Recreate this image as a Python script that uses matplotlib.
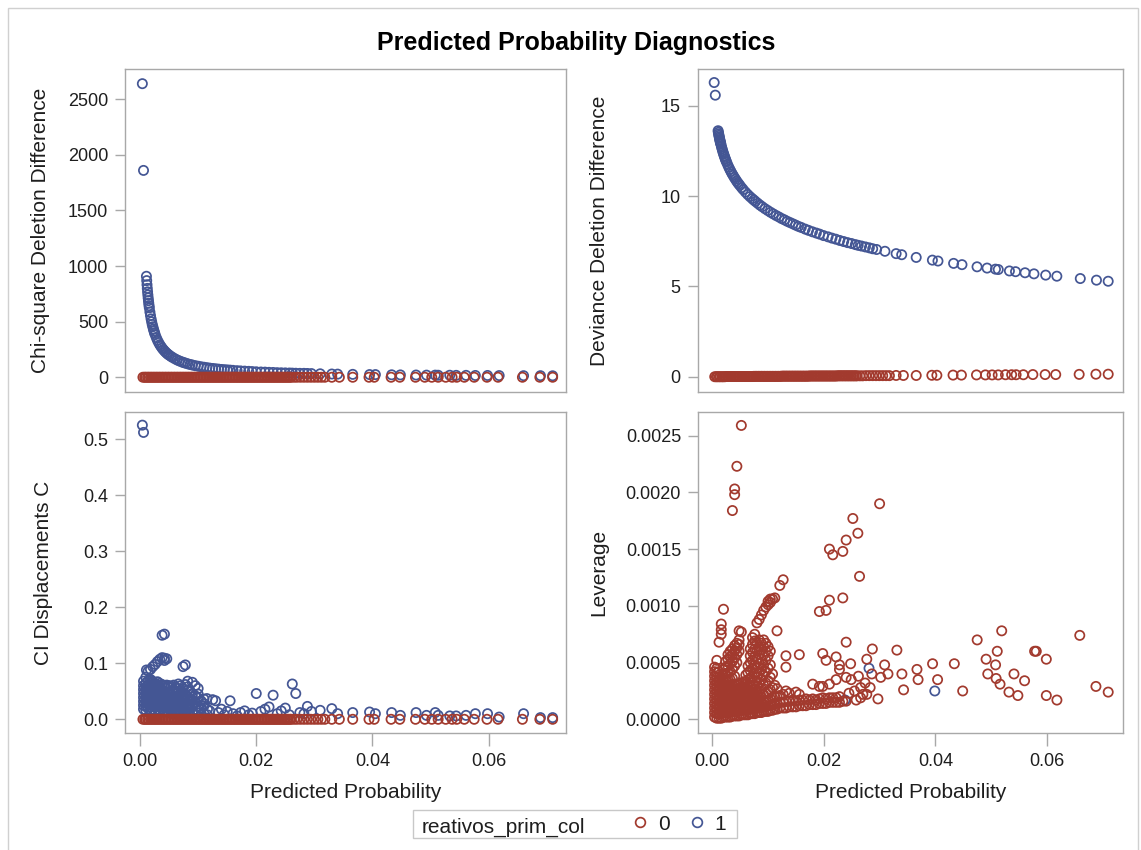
import matplotlib
matplotlib.use("Agg")
import matplotlib.pyplot as plt
from matplotlib.lines import Line2D
from matplotlib.patches import Rectangle
from matplotlib.ticker import FormatStrFormatter

# events (reativos_prim_col = 1): predicted probability and deletion diagnostics
p1 = [0.0004, 0.0006,
      0.00110, 0.00115, 0.00120, 0.00125, 0.00130, 0.00135, 0.00140, 0.00145, 0.00150, 0.00155,
      0.00160, 0.00170, 0.00180, 0.00190, 0.00200, 0.00210, 0.00220, 0.00230, 0.00240, 0.00250,
      0.00260, 0.00280, 0.00300, 0.00320, 0.00340, 0.00360, 0.00380, 0.00400, 0.00420, 0.00440,
      0.00460, 0.00480, 0.00500, 0.00530, 0.00560, 0.00600, 0.00640, 0.00680, 0.00720, 0.00750,
      0.00780, 0.00820, 0.00860, 0.00900, 0.00950, 0.01000, 0.01050, 0.01100, 0.01150, 0.01200,
      0.0125, 0.0130, 0.0135, 0.0140, 0.0145, 0.0150, 0.0155, 0.0160, 0.0167, 0.0173,
      0.0180, 0.0187, 0.0193, 0.0200, 0.0208, 0.0215, 0.0222, 0.0229, 0.0236, 0.0243,
      0.0250, 0.0257, 0.0262, 0.0268, 0.0275, 0.0282, 0.0288, 0.0295,
      0.0310, 0.0330, 0.0340, 0.0366, 0.0395, 0.0405, 0.0433, 0.0448, 0.0475, 0.0493,
      0.0508, 0.0513, 0.0533, 0.0544, 0.0561, 0.0577, 0.0598, 0.0618, 0.0660, 0.0689, 0.0710]
chisq1 = [2640, 1860,
          908, 869, 832, 799, 768, 740, 713, 689, 666, 644,
          624, 587, 555, 525, 499, 475, 454, 434, 416, 399,
          384, 356, 332, 312, 293, 277, 262, 249, 237, 226,
          216, 207, 199, 188, 178, 166, 155, 146, 138, 132,
          127, 121, 115, 110, 104, 99, 94, 90, 86, 82,
          79, 76, 73, 70, 68, 66, 64, 62, 59, 57,
          55, 53, 51, 49, 47, 46, 44, 43, 41, 40,
          39, 38, 37, 36, 35, 35, 34, 33,
          31, 29, 28, 26, 24, 24, 22, 21, 20, 19,
          19, 18, 18, 17, 17, 16, 16, 15, 14, 14, 13]
dev1 = [16.3, 15.6,
        13.63, 13.54, 13.45, 13.37, 13.29, 13.22, 13.14, 13.07, 13.00, 12.94,
        12.88, 12.75, 12.64, 12.53, 12.43, 12.33, 12.24, 12.15, 12.06, 11.98,
        11.90, 11.76, 11.62, 11.49, 11.37, 11.25, 11.15, 11.04, 10.95, 10.85,
        10.76, 10.68, 10.60, 10.48, 10.37, 10.23, 10.10, 9.98, 9.87, 9.79,
        9.71, 9.61, 9.51, 9.42, 9.31, 9.21, 9.11, 9.02, 8.93, 8.85,
        8.76, 8.69, 8.61, 8.54, 8.47, 8.40, 8.33, 8.27, 8.18, 8.11,
        8.03, 7.96, 7.90, 7.82, 7.75, 7.68, 7.62, 7.55, 7.49, 7.43,
        7.38, 7.32, 7.28, 7.24, 7.19, 7.14, 7.09, 7.05,
        6.95, 6.82, 6.76, 6.61, 6.46, 6.41, 6.28, 6.21, 6.09, 6.02,
        5.96, 5.94, 5.86, 5.82, 5.76, 5.70, 5.63, 5.57, 5.44, 5.35, 5.29]
c1 = [0.525, 0.512,
      0.088, 0.040, 0.052, 0.034, 0.045, 0.060, 0.028, 0.050, 0.038, 0.055,
      0.030, 0.047, 0.058, 0.035, 0.069, 0.041, 0.054, 0.027, 0.063, 0.048,
      0.035, 0.056, 0.044, 0.060, 0.038, 0.052, 0.030, 0.048, 0.105, 0.055,
      0.036, 0.058, 0.045, 0.028, 0.052, 0.038, 0.055, 0.030, 0.048, 0.040,
      0.035, 0.052, 0.022, 0.040, 0.030, 0.045, 0.020, 0.028, 0.037, 0.015,
      0.035, 0.033, 0.012, 0.018, 0.008, 0.014, 0.033, 0.010, 0.006, 0.012,
      0.015, 0.008, 0.011, 0.046, 0.014, 0.018, 0.022, 0.043, 0.010, 0.015,
      0.020, 0.008, 0.063, 0.046, 0.012, 0.010, 0.023, 0.014,
      0.016, 0.019, 0.010, 0.012, 0.013, 0.010, 0.012, 0.007, 0.012, 0.007,
      0.012, 0.007, 0.006, 0.006, 0.007, 0.010, 0.010, 0.004, 0.010, 0.003, 0.003]

# further events in the CI displacement cluster, grouped by predicted probability
blob_p1 = [0.0006, 0.0010, 0.0014, 0.0018, 0.0022, 0.0026, 0.0030, 0.0034, 0.0038, 0.0042,
           0.0046, 0.0050, 0.0054, 0.0058, 0.0062, 0.0066, 0.0070, 0.0074, 0.0078, 0.0082,
           0.0086, 0.0090, 0.0095, 0.0100, 0.0105, 0.0110, 0.0116]
blob_c1 = [
    [0.018, 0.025, 0.032, 0.039, 0.046, 0.053, 0.060, 0.068],
    [0.016, 0.023, 0.030, 0.037, 0.044, 0.051, 0.058, 0.065, 0.075],
    [0.019, 0.026, 0.033, 0.040, 0.047, 0.054, 0.061, 0.068, 0.086],
    [0.016, 0.022, 0.029, 0.036, 0.043, 0.050, 0.057, 0.064, 0.071, 0.089],
    [0.018, 0.025, 0.032, 0.039, 0.046, 0.053, 0.060, 0.067, 0.094],
    [0.016, 0.022, 0.029, 0.036, 0.043, 0.050, 0.057, 0.064, 0.098],
    [0.018, 0.025, 0.032, 0.039, 0.046, 0.053, 0.060, 0.067, 0.103],
    [0.016, 0.022, 0.029, 0.036, 0.043, 0.050, 0.057, 0.064, 0.107],
    [0.018, 0.025, 0.032, 0.039, 0.046, 0.053, 0.062, 0.110, 0.150],
    [0.016, 0.022, 0.029, 0.036, 0.043, 0.050, 0.060, 0.109, 0.152],
    [0.014, 0.021, 0.028, 0.035, 0.042, 0.049, 0.061, 0.108],
    [0.012, 0.019, 0.026, 0.033, 0.040, 0.047, 0.060],
    [0.010, 0.017, 0.024, 0.031, 0.038, 0.045, 0.059],
    [0.012, 0.019, 0.026, 0.033, 0.040, 0.048, 0.061],
    [0.009, 0.016, 0.023, 0.030, 0.037, 0.045, 0.057],
    [0.011, 0.018, 0.025, 0.032, 0.040, 0.050, 0.063],
    [0.008, 0.015, 0.022, 0.030, 0.038, 0.047, 0.060],
    [0.010, 0.017, 0.025, 0.033, 0.042, 0.055, 0.094],
    [0.008, 0.015, 0.023, 0.032, 0.045, 0.062, 0.097],
    [0.011, 0.019, 0.028, 0.040, 0.058, 0.068],
    [0.007, 0.016, 0.026, 0.036, 0.050],
    [0.012, 0.022, 0.033, 0.046, 0.066],
    [0.008, 0.018, 0.030, 0.042, 0.060],
    [0.011, 0.024, 0.038, 0.055],
    [0.007, 0.019, 0.033],
    [0.010, 0.024, 0.036],
    [0.008, 0.018],
]

# non-events (reativos_prim_col = 0) along the zero band
band_p0 = [0.0005, 0.0008, 0.0010, 0.0013, 0.0015, 0.0018, 0.0020, 0.0023,
           0.0025, 0.0028, 0.0030, 0.0033, 0.0035, 0.0038, 0.0040, 0.0043, 0.0045, 0.0048,
           0.0050, 0.0053, 0.0055, 0.0058, 0.0060, 0.0063, 0.0065, 0.0068, 0.0070, 0.0073,
           0.0075, 0.0078, 0.0080, 0.0083, 0.0085, 0.0088, 0.0090, 0.0093, 0.0095, 0.0098,
           0.0100, 0.0103, 0.0105, 0.0108, 0.0110, 0.0113, 0.0115, 0.0118, 0.0120, 0.0123,
           0.0125, 0.0128, 0.0130, 0.0133, 0.0135, 0.0138, 0.0140, 0.0143, 0.0145, 0.0148,
           0.0150, 0.0153, 0.0155, 0.0158, 0.0160, 0.0163, 0.0165, 0.0168, 0.0170, 0.0173,
           0.0175, 0.0178, 0.0180, 0.0183, 0.0185, 0.0188, 0.0190, 0.0193, 0.0195, 0.0198,
           0.0200, 0.0203, 0.0205, 0.0208, 0.0210, 0.0213, 0.0215, 0.0218, 0.0220, 0.0223,
           0.0225, 0.0228, 0.0230, 0.0233, 0.0235, 0.0238, 0.0240, 0.0243, 0.0245, 0.0248,
           0.0250, 0.0253, 0.0255, 0.0258, 0.0260,
           0.0265, 0.0270, 0.0276, 0.0282, 0.0288, 0.0294, 0.0300, 0.0306, 0.0312, 0.0318,
           0.0330, 0.0343, 0.0366, 0.0394, 0.0403, 0.0432, 0.0447, 0.0474, 0.0490, 0.0502,
           0.0513, 0.0526, 0.0537, 0.0545, 0.0558, 0.0575, 0.0597, 0.0616, 0.0658, 0.0688, 0.0710]
band_chisq0 = [0, 0, 0, 0, 0, 0, 0, 0, 0, 0, 0, 0, 0, 0, 0, 0, 0, 0, 0, 0,
               0, 0, 0, 0, 0, 0, 0, 0, 0, 0, 0, 0, 0, 0, 0, 0, 0, 0, 0, 0,
               0, 0, 0, 0, 0, 0, 0, 0, 0, 0, 0, 0, 0, 0, 0, 0, 0, 0, 0, 0,
               0, 0, 0, 0, 0, 0, 0, 0, 0, 0, 0, 0, 0, 0, 0, 0, 0, 0, 0, 0,
               0, 0, 0, 0, 0, 0, 0, 0, 0, 0, 0, 0, 0, 0, 0, 0, 0, 0, 0, 0,
               0, 0, 0, 0, 0, 0, 0, 0, 0, 0, 0, 0, 0, 0, 0, 0, 0, 0, 0, 0,
               0, 0, 0, 0, 0, 0, 0, 0, 0, 0, 0, 0, 0, 0]
band_dev0 = [0.00, 0.00, 0.00, 0.00, 0.00, 0.00, 0.00, 0.00,
             0.01, 0.01, 0.01, 0.01, 0.01, 0.01, 0.01, 0.01, 0.01, 0.01,
             0.01, 0.01, 0.01, 0.01, 0.01, 0.01, 0.01, 0.01, 0.01, 0.01,
             0.02, 0.02, 0.02, 0.02, 0.02, 0.02, 0.02, 0.02, 0.02, 0.02,
             0.02, 0.02, 0.02, 0.02, 0.02, 0.02, 0.02, 0.02, 0.02, 0.02,
             0.03, 0.03, 0.03, 0.03, 0.03, 0.03, 0.03, 0.03, 0.03, 0.03,
             0.03, 0.03, 0.03, 0.03, 0.03, 0.03, 0.03, 0.03, 0.03, 0.03,
             0.04, 0.04, 0.04, 0.04, 0.04, 0.04, 0.04, 0.04, 0.04, 0.04,
             0.04, 0.04, 0.04, 0.04, 0.04, 0.04, 0.04, 0.04, 0.04, 0.04,
             0.05, 0.05, 0.05, 0.05, 0.05, 0.05, 0.05, 0.05, 0.05, 0.05,
             0.05, 0.05, 0.05, 0.05, 0.05,
             0.05, 0.05, 0.06, 0.06, 0.06, 0.06, 0.06, 0.06, 0.06, 0.06,
             0.07, 0.07, 0.07, 0.08, 0.08, 0.09, 0.09, 0.10, 0.10, 0.10,
             0.10, 0.11, 0.11, 0.11, 0.11, 0.12, 0.12, 0.12, 0.13, 0.14, 0.14]
band_c0 = [0, 0, 0, 0, 0, 0, 0, 0, 0, 0, 0, 0, 0, 0, 0, 0, 0, 0, 0, 0,
           0, 0, 0, 0, 0, 0, 0, 0, 0, 0, 0, 0, 0, 0, 0, 0, 0, 0, 0, 0,
           0, 0, 0, 0, 0, 0, 0, 0, 0, 0, 0, 0, 0, 0, 0, 0, 0, 0, 0, 0,
           0, 0, 0, 0, 0, 0, 0, 0, 0, 0, 0, 0, 0, 0, 0, 0, 0, 0, 0, 0,
           0, 0, 0, 0, 0, 0, 0, 0, 0, 0, 0, 0, 0, 0, 0, 0, 0, 0, 0, 0,
           0, 0, 0, 0, 0, 0, 0, 0, 0, 0, 0, 0, 0, 0, 0, 0, 0, 0, 0, 0,
           0, 0, 0, 0, 0, 0, 0, 0, 0, 0, 0, 0, 0, 0]

# non-event leverage, grouped by predicted probability
lev_col_p0 = [0.0004, 0.0008, 0.0012, 0.0016, 0.0020, 0.0024, 0.0028, 0.0032, 0.0036, 0.0040,
              0.0044, 0.0048, 0.0052, 0.0056, 0.0060, 0.0064, 0.0068, 0.0072, 0.0076, 0.0080,
              0.0084, 0.0088, 0.0092, 0.0096, 0.0100, 0.0104, 0.0108, 0.0112, 0.0116, 0.0121,
              0.0127, 0.0132, 0.0138, 0.0144, 0.0150, 0.0156, 0.0162, 0.0168, 0.0174, 0.0180,
              0.0186, 0.0192, 0.0198, 0.0204, 0.0210, 0.0216, 0.0222, 0.0228, 0.0234, 0.0240]
lev_col0 = [
    [0.00002, 0.00006, 0.00010, 0.00014, 0.00018, 0.00022, 0.00026, 0.00030, 0.00034, 0.00038, 0.00042, 0.00046],
    [0.00001, 0.00005, 0.00009, 0.00013, 0.00017, 0.00021, 0.00025, 0.00029, 0.00033, 0.00037, 0.00041, 0.00045, 0.00052],
    [0.00001, 0.00005, 0.00009, 0.00013, 0.00017, 0.00021, 0.00025, 0.00029, 0.00033, 0.00037, 0.00042, 0.00068],
    [0.00001, 0.00005, 0.00009, 0.00013, 0.00017, 0.00021, 0.00025, 0.00029, 0.00033, 0.00037, 0.00075, 0.00079, 0.00084],
    [0.00002, 0.00006, 0.00010, 0.00014, 0.00018, 0.00022, 0.00026, 0.00030, 0.00034, 0.00039, 0.00044, 0.00097],
    [0.00002, 0.00006, 0.00010, 0.00014, 0.00018, 0.00022, 0.00026, 0.00030, 0.00034, 0.00040, 0.00046, 0.00051],
    [0.00002, 0.00006, 0.00010, 0.00014, 0.00018, 0.00022, 0.00026, 0.00030, 0.00035, 0.00041, 0.00047, 0.00053, 0.00057],
    [0.00002, 0.00006, 0.00010, 0.00014, 0.00018, 0.00022, 0.00026, 0.00030, 0.00035, 0.00042, 0.00049, 0.00055, 0.00060],
    [0.00003, 0.00007, 0.00011, 0.00015, 0.00019, 0.00023, 0.00027, 0.00031, 0.00036, 0.00044, 0.00051, 0.00057, 0.00062, 0.00184],
    [0.00003, 0.00007, 0.00011, 0.00015, 0.00019, 0.00023, 0.00027, 0.00031, 0.00038, 0.00047, 0.00054, 0.00060, 0.00065, 0.00198, 0.00203],
    [0.00003, 0.00007, 0.00011, 0.00015, 0.00019, 0.00023, 0.00027, 0.00031, 0.00050, 0.00057, 0.00063, 0.00067, 0.00223],
    [0.00003, 0.00007, 0.00011, 0.00015, 0.00019, 0.00023, 0.00027, 0.00031, 0.00060, 0.00066, 0.00070, 0.00078],
    [0.00004, 0.00008, 0.00012, 0.00016, 0.00020, 0.00024, 0.00028, 0.00032, 0.00077, 0.00259],
    [0.00004, 0.00008, 0.00012, 0.00016, 0.00020, 0.00024, 0.00028, 0.00033],
    [0.00004, 0.00008, 0.00012, 0.00016, 0.00020, 0.00024, 0.00028, 0.00033, 0.00039],
    [0.00004, 0.00008, 0.00012, 0.00016, 0.00020, 0.00024, 0.00029, 0.00035, 0.00041, 0.00047],
    [0.00005, 0.00009, 0.00013, 0.00017, 0.00021, 0.00025, 0.00030, 0.00036, 0.00043, 0.00050, 0.00056, 0.00062],
    [0.00005, 0.00009, 0.00013, 0.00017, 0.00021, 0.00026, 0.00032, 0.00038, 0.00045, 0.00052, 0.00059, 0.00066, 0.00072],
    [0.00005, 0.00009, 0.00013, 0.00017, 0.00022, 0.00027, 0.00034, 0.00041, 0.00048, 0.00055, 0.00062, 0.00069, 0.00075],
    [0.00006, 0.00010, 0.00014, 0.00018, 0.00023, 0.00029, 0.00037, 0.00045, 0.00053, 0.00060, 0.00067, 0.00085],
    [0.00006, 0.00010, 0.00014, 0.00019, 0.00025, 0.00032, 0.00040, 0.00049, 0.00057, 0.00064, 0.00070, 0.00088],
    [0.00006, 0.00010, 0.00015, 0.00020, 0.00027, 0.00035, 0.00044, 0.00053, 0.00061, 0.00067, 0.00092],
    [0.00007, 0.00011, 0.00016, 0.00022, 0.00030, 0.00039, 0.00048, 0.00057, 0.00064, 0.00070, 0.00096],
    [0.00007, 0.00011, 0.00016, 0.00023, 0.00032, 0.00042, 0.00052, 0.00060, 0.00067, 0.00099],
    [0.00007, 0.00012, 0.00017, 0.00024, 0.00034, 0.00045, 0.00056, 0.00064, 0.00101, 0.00104],
    [0.00008, 0.00012, 0.00018, 0.00026, 0.00037, 0.00048, 0.00060, 0.00103, 0.00106],
    [0.00008, 0.00013, 0.00019, 0.00028, 0.00040, 0.00106],
    [0.00009, 0.00014, 0.00020, 0.00030, 0.00107],
    [0.00009, 0.00014, 0.00020, 0.00027, 0.00078],
    [0.00010, 0.00015, 0.00021, 0.00118],
    [0.00010, 0.00015, 0.00022, 0.00123],
    [0.00010, 0.00016, 0.00025, 0.00046, 0.00056],
    [0.00011, 0.00016, 0.00023],
    [0.00011, 0.00017],
    [0.00011, 0.00016, 0.00024],
    [0.00012, 0.00017, 0.00022, 0.00057],
    [0.00012, 0.00017],
    [0.00012, 0.00018],
    [0.00013, 0.00017],
    [0.00013, 0.00018, 0.00031],
    [0.00013, 0.00017],
    [0.00014, 0.00018, 0.00029, 0.00095],
    [0.00014, 0.00019, 0.00029, 0.00058],
    [0.00014, 0.00018, 0.00052, 0.00096],
    [0.00015, 0.00019, 0.00031, 0.00105, 0.00150],
    [0.00015, 0.00019, 0.00145],
    [0.00015, 0.00019, 0.00035, 0.00055],
    [0.00015, 0.00020, 0.00044, 0.00048],
    [0.00016, 0.00107, 0.00148],
    [0.00016, 0.00037, 0.00068, 0.00158],
]

# scattered non-events in the leverage panel
lev_p0 = [0.0245, 0.0248, 0.0249, 0.0252, 0.0255, 0.0258, 0.0261, 0.0262, 0.0264, 0.0266,
          0.0266, 0.0270, 0.0274, 0.0277, 0.0277, 0.0283, 0.0286, 0.0287, 0.0297, 0.0300,
          0.0302, 0.0309, 0.0315, 0.0331, 0.0340, 0.0343, 0.0367, 0.0369, 0.0395, 0.0404,
          0.0434, 0.0449, 0.0475, 0.0491, 0.0494, 0.0508, 0.0509, 0.0511, 0.0516, 0.0519,
          0.0532, 0.0541, 0.0548, 0.0560, 0.0578, 0.0581, 0.0599, 0.0599, 0.0618, 0.0659,
          0.0688, 0.0710]
lev0 = [0.00023, 0.00049, 0.00035, 0.00177, 0.00025, 0.00017, 0.00164, 0.00038, 0.00126, 0.00028,
        0.00019, 0.00022, 0.00032, 0.00053, 0.00022, 0.00028, 0.00040, 0.00062, 0.00018, 0.00190,
        0.00037, 0.00048, 0.00040, 0.00061, 0.00040, 0.00026, 0.00044, 0.00035, 0.00049, 0.00035,
        0.00049, 0.00025, 0.00070, 0.00053, 0.00040, 0.00048, 0.00036, 0.00060, 0.00031, 0.00078,
        0.00024, 0.00040, 0.00021, 0.00034, 0.00060, 0.00060, 0.00053, 0.00021, 0.00017, 0.00074,
        0.00029, 0.00024]

# events that show in the leverage panel
lev_p1 = [0.0238, 0.0281, 0.0399]
lev1 = [0.00017, 0.00045, 0.00025]

x_ticks = [0, 0.02, 0.04, 0.06]
group_labels = ['0', '1']

RED = '#a23a2e'
BLUE = '#445694'
LINE = '#a8a8a8'
TEXT = '#1e1e1e'

plt.rcParams['font.family'] = ['Liberation Sans', 'DejaVu Sans']

fig = plt.figure(figsize=(11.41, 8.5), dpi=100)


def place(x0, y0, x1, y1):
    # pixel box -> figure fraction
    return [x0 / 1141, 1 - y1 / 850, (x1 - x0) / 1141, (y1 - y0) / 850]


ax_chi = fig.add_axes(place(125.5, 69, 566, 391.7))
ax_dev = fig.add_axes(place(698, 69, 1122.7, 391.7))
ax_c = fig.add_axes(place(125.5, 411.7, 566, 733.3))
ax_lev = fig.add_axes(place(698.4, 411.7, 1122.7, 733.3))


def rings(ax, x, y, color):
    ax.scatter(x, y, s=44, marker='o', facecolors='none', edgecolors=color, linewidths=1.25)


blob_x = [p for p, cs in zip(blob_p1, blob_c1) for _ in cs]
blob_y = [c for cs in blob_c1 for c in cs]
lev_x = [p for p, ls in zip(lev_col_p0, lev_col0) for _ in ls] + lev_p0
lev_y = [v for ls in lev_col0 for v in ls] + lev0

rings(ax_chi, p1, chisq1, BLUE)
rings(ax_chi, band_p0, band_chisq0, RED)
rings(ax_dev, p1, dev1, BLUE)
rings(ax_dev, band_p0, band_dev0, RED)
rings(ax_c, p1 + blob_x, c1 + blob_y, BLUE)
rings(ax_c, band_p0, band_c0, RED)
rings(ax_lev, lev_p1, lev1, BLUE)
rings(ax_lev, lev_x, lev_y, RED)

for ax in (ax_chi, ax_dev, ax_c, ax_lev):
    for sp in ax.spines.values():
        sp.set_color(LINE)
        sp.set_linewidth(1)
    ax.tick_params(axis='both', colors=LINE, labelcolor=TEXT, labelsize=13, width=1)
    ax.tick_params(axis='y', length=7, pad=5.5)
    ax.tick_params(axis='x', length=9.5, pad=4.5)
    ax.set_xticks(x_ticks)
    ax.xaxis.set_major_formatter(FormatStrFormatter('%.2f'))

for ax in (ax_chi, ax_c):
    ax.set_xlim(-0.0025, 0.0733)
for ax in (ax_dev, ax_lev):
    ax.set_xlim(-0.0025, 0.0736)
for ax in (ax_chi, ax_dev):
    ax.tick_params(axis='x', bottom=False, labelbottom=False)

ax_chi.set_ylim(-130, 2772)
ax_chi.set_yticks([0, 500, 1000, 1500, 2000, 2500])
ax_dev.set_ylim(-0.83, 17.05)
ax_dev.set_yticks([0, 5, 10, 15])
ax_c.set_ylim(-0.025, 0.549)
ax_c.set_yticks([0, 0.1, 0.2, 0.3, 0.4, 0.5])
ax_c.yaxis.set_major_formatter(FormatStrFormatter('%.1f'))
ax_lev.set_ylim(-0.000123, 0.002711)
ax_lev.set_yticks([0, 0.0005, 0.001, 0.0015, 0.002, 0.0025])
ax_lev.yaxis.set_major_formatter(FormatStrFormatter('%.4f'))

for ax, label, xpos in ((ax_chi, 'Chi-square Deletion Difference', -0.194),
                        (ax_dev, 'Deviance Deletion Difference', -0.231),
                        (ax_c, 'CI Displacements C', -0.187),
                        (ax_lev, 'Leverage', -0.236)):
    ax.set_ylabel(label, fontsize=15, color=TEXT, va='center')
    ax.yaxis.set_label_coords(xpos, 0.5)

for ax in (ax_c, ax_lev):
    ax.set_xlabel('Predicted Probability', fontsize=15, color=TEXT)
    ax.xaxis.set_label_coords(0.5, -0.154)

fig.text(576 / 1141, 1 - 43 / 850, 'Predicted Probability Diagnostics',
         ha='center', va='center', fontsize=18, fontweight='bold', color='black')

# legend: frame, group variable name and the two marker entries
fig.add_artist(Rectangle((413 / 1141, 1 - 838.3 / 850), 324 / 1141, 28.3 / 850,
                         transform=fig.transFigure, fill=False, edgecolor='#c8c8c8', linewidth=1))
fig.text(421.7 / 1141, 1 - 832.7 / 850, 'reativos_prim_col', fontsize=15, color=TEXT,
         ha='left', va='baseline')
handles = [Line2D([], [], linestyle='none', marker='o', markersize=7, markerfacecolor='none',
                  markeredgecolor=col, markeredgewidth=1.25) for col in (RED, BLUE)]
fig.legend(handles, group_labels, loc='center left', bbox_to_anchor=(633.75 / 1141, 1 - 824 / 850),
           ncol=2, frameon=False, fontsize=15, handlelength=0.6, handletextpad=0.565,
           columnspacing=1.0, borderpad=0, borderaxespad=0, labelcolor=TEXT)

# outer border of the graph
fig.add_artist(Rectangle((8 / 1141, -0.02), 1129.7 / 1141, 1.02 - 8 / 850,
                         transform=fig.transFigure, fill=False, edgecolor='#d0d0d0', linewidth=1))

fig.savefig('out.png', dpi=100)
